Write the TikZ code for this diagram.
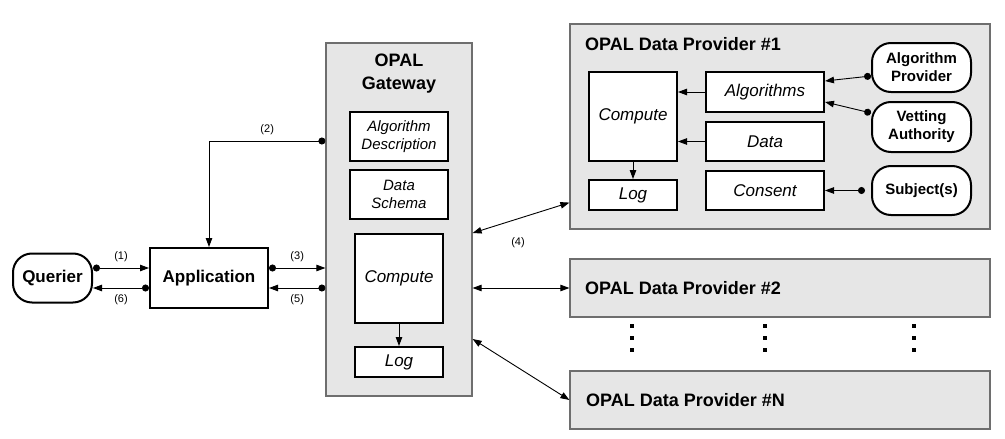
\documentclass[tikz,border=0pt]{standalone}
\usepackage{fontspec}
\setmainfont{Liberation Sans}
\usepackage{tikz}
\usetikzlibrary{arrows.meta,calc,positioning}
\definecolor{opalgray}{HTML}{E6E6E6}
\definecolor{opaledge}{HTML}{6E6E6E}

\begin{document}
\begin{tikzpicture}[x=1pt, y=-1pt,
  container/.style={draw=opaledge, fill=opalgray, line width=1.2pt, inner sep=0pt},
  part/.style={draw, fill=white, line width=2pt, inner sep=0pt, align=center,
    font=\fontsize{17}{20}\selectfont\itshape},
  smallpart/.style={part, font=\fontsize{15}{18}\selectfont\itshape},
  actor/.style={draw, fill=white, line width=2pt, rounded corners=19pt, inner sep=0pt,
    align=center, font=\fontsize{15}{18}\selectfont\bfseries},
  flow/.style={line width=0.9pt, -{Triangle[length=9pt,width=6.5pt]}},
  dotflow/.style={line width=0.9pt, {Circle[length=7pt]}-{Triangle[length=9pt,width=6.5pt]}},
  twoway/.style={line width=0.9pt, {Triangle[length=9pt,width=6.5pt]}-{Triangle[length=9pt,width=6.5pt]}},
  num/.style={font=\fontsize{11}{13}\selectfont, inner sep=1pt},
  title/.style={font=\fontsize{18}{23}\selectfont\bfseries, inner sep=0pt}]
  \useasboundingbox (0,0) rectangle (1005,439);

  % ── Querier and application ──
  \node[actor, font=\fontsize{17}{20}\selectfont\bfseries, minimum width=79pt, minimum height=49pt]
    (querier) at (52.5,278) {Querier};
  \node[draw, fill=white, line width=2pt, minimum width=118pt, minimum height=60pt,
    font=\fontsize{17}{20}\selectfont\bfseries] (app) at (209,278) {Application};

  % ── OPAL gateway ──
  \node[container, minimum width=146pt, minimum height=353pt] (gw) at (399,219.5) {};
  \node[title, align=center] (gwtitle) at (399,74) {OPAL\\Gateway};
  \node[smallpart, minimum width=98pt, minimum height=49pt] (algdesc) at (399,136.5) {Algorithm\\Description};
  \node[smallpart, minimum width=98pt, minimum height=49pt] (schema) at (399,194.5) {Data\\Schema};
  \node[part, minimum width=88pt, minimum height=89pt] (gwcomp) at (399,278.5) {Compute};
  \node[part, minimum width=88pt, minimum height=30pt] (gwlog) at (399,362) {Log};
  \draw[flow] (gwcomp) -- (gwlog);

  % ── Data provider #1 ──
  \node[container, minimum width=420pt, minimum height=205pt] (prov1) at (780,126.5) {};
  \node[title, anchor=west] (prov1title) at (585,44) {OPAL Data Provider \#1};
  \node[part, minimum width=88pt, minimum height=89pt] (p1comp) at (633,116.5) {Compute};
  \node[part, minimum width=88pt, minimum height=30pt] (p1log) at (633,195) {Log};
  \node[part, minimum width=118pt, minimum height=40pt] (alg) at (765,92) {Algorithms};
  \node[part, minimum width=118pt, minimum height=39pt] (data) at (765,141.5) {Data};
  \node[part, minimum width=118pt, minimum height=39pt] (consent) at (765,190.5) {Consent};
  \node[actor, minimum width=99pt, minimum height=49pt] (algprov) at (921.5,67.5) {Algorithm\\Provider};
  \node[actor, minimum width=99pt, minimum height=50pt] (vetting) at (921.5,127) {Vetting\\Authority};
  \node[actor, minimum width=99pt, minimum height=49pt] (subj) at (921.5,190.5) {Subject(s)};
  \draw[flow] (alg.west) -- (alg.west -| p1comp.east);
  \draw[flow] (data.west) -- (data.west -| p1comp.east);
  \draw[flow] (p1comp) -- (p1log);
  \draw[dotflow] ([yshift=-8.5pt]algprov.west) -- ([yshift=11pt]alg.east);
  \draw[dotflow] ([yshift=14pt]vetting.west) -- ([yshift=-10pt]alg.east);
  \draw[dotflow] ([xshift=-6pt]subj.west) -- (subj.west -| consent.east);

  % ── Data providers #2 .. #N ──
  \node[container, minimum width=420pt, minimum height=58pt] (prov2) at (780,288) {};
  \node[title, anchor=west] (prov2title) at (585,288) {OPAL Data Provider \#2};
  \node[container, minimum width=420pt, minimum height=58pt] (provN) at (780,400) {};
  \node[title, anchor=west] (provNtitle) at (586,400) {OPAL Data Provider \#N};
  \foreach \x in {632,765,914}
    \foreach \y in {326,338,350}
      \fill (\x-1.6,\y-1.6) rectangle (\x+1.6,\y+1.6);

  % ── Requests and replies ──
  \draw[dotflow] ([yshift=10pt]querier.east) -- node[num, above=5pt] {(1)} ([yshift=10pt]app.west);
  \draw[dotflow] ([yshift=-10pt]app.west) -- node[num, below=5pt] {(6)} ([yshift=-10pt]querier.east);
  \coordinate (c2) at ([yshift=78.5pt]gw.west);
  \draw[dotflow] (c2) -| node[num, pos=0.25, above=5pt] {(2)} (app.north);
  \coordinate (c3) at ([yshift=10pt]app.east);
  \draw[dotflow] (c3) -- node[num, above=5pt] {(3)} (c3 -| gw.west);
  \coordinate (c5) at ([yshift=-10pt]app.east);
  \draw[dotflow] (c5 -| gw.west) -- node[num, below=5pt] {(5)} (c5);

  % ── Gateway to providers ──
  \coordinate (g1) at ([yshift=-13.5pt]gw.east);
  \draw[twoway] (g1) -- ([yshift=27pt]prov1.south west);
  \node[num] (n4) at (518,243) {(4)};
  \draw[twoway] (prov2.west -| gw.east) -- (prov2.west);
  \coordinate (gN) at ([yshift=-119.5pt]gw.east);
  \draw[twoway] (gN) -- (provN.west);
\end{tikzpicture}
\end{document}
